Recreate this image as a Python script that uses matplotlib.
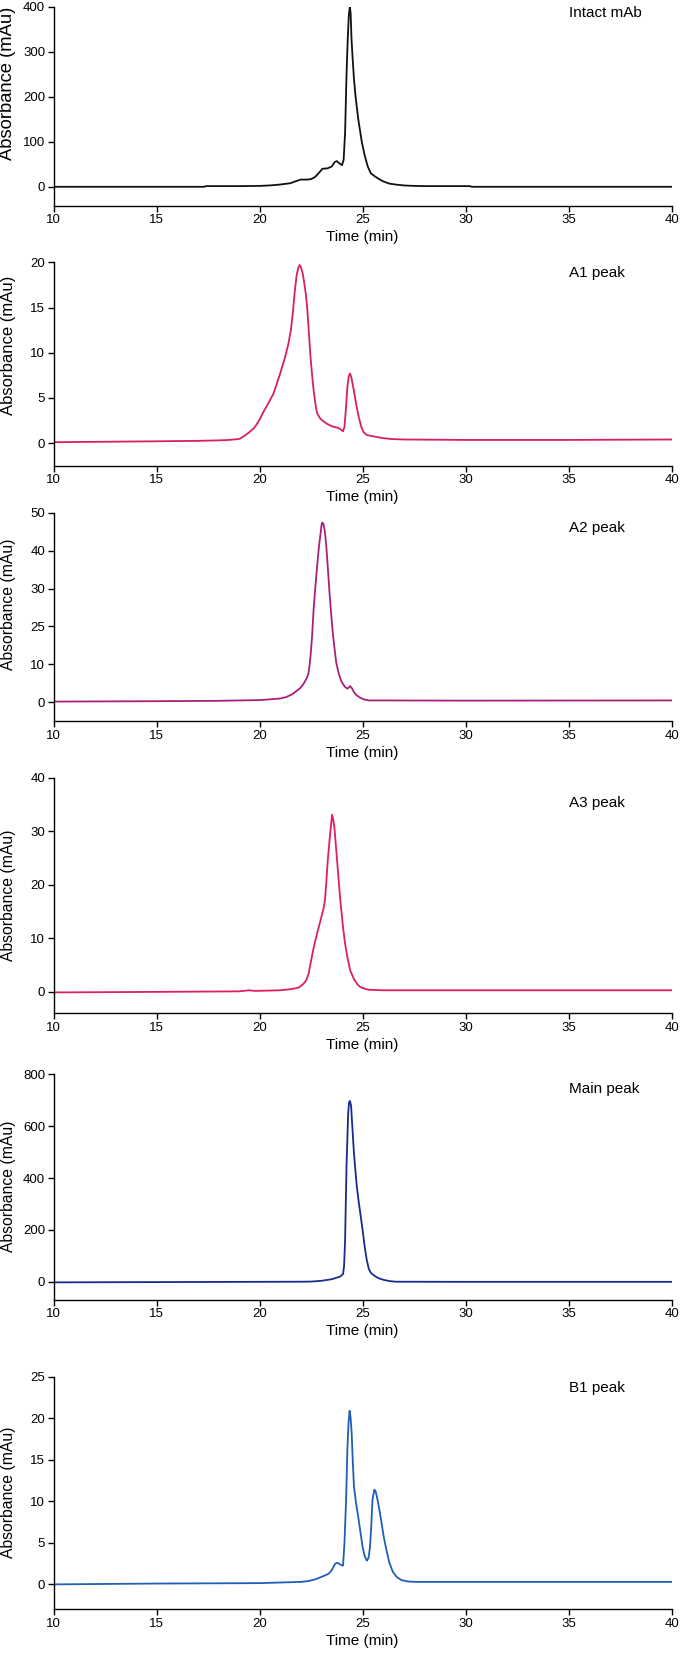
import matplotlib
matplotlib.use("Agg")
import matplotlib.pyplot as plt

plt.rcParams['font.family'] = ['Liberation Sans', 'DejaVu Sans']

# time (min) / absorbance (mAu)
t_intact = [10, 17.3, 17.4, 19.0, 20.0, 20.5, 21.0, 21.5, 21.8, 22.0, 22.3, 22.5, 22.7, 22.9, 23.05,
            23.3, 23.5, 23.65, 23.75, 23.85, 24.0, 24.08, 24.15, 24.22, 24.28, 24.33, 24.38, 24.42,
            24.46, 24.51, 24.58, 24.66, 24.79, 24.96, 25.1, 25.25, 25.4, 25.6, 25.8, 26.0, 26.3,
            26.6, 27.0, 27.5, 28.0, 30.2, 30.3, 40]
a_intact = [0, 0, 1.5, 1.5, 2, 3, 5, 8, 13, 16, 16, 17, 22, 32, 40,
            41, 45, 55, 57, 53, 48, 60, 120, 250, 330, 380, 400, 385,
            330, 290, 240, 200, 150, 100, 70, 45, 30, 23, 17, 12, 7,
            5, 3, 2, 1.5, 1.5, 0, 0]

t_a1 = [10, 15, 17, 18, 18.5, 19.0, 19.2, 19.5, 19.7, 19.84, 20.0, 20.2, 20.45, 20.68, 21.0, 21.25,
        21.4, 21.52, 21.62, 21.7, 21.8, 21.88, 21.94, 22.0, 22.08, 22.15, 22.25, 22.32, 22.4, 22.47,
        22.55, 22.62, 22.7, 22.79, 22.95, 23.1, 23.3, 23.52, 23.8, 23.95, 24.05, 24.12, 24.18,
        24.26, 24.33, 24.39, 24.45, 24.51, 24.6, 24.68, 24.8, 24.93, 25.05, 25.2, 25.5, 26.0,
        26.4, 27, 30, 35, 40]
a_a1 = [0.1, 0.2, 0.25, 0.3, 0.35, 0.45, 0.7, 1.2, 1.6, 2.0, 2.6, 3.5, 4.5, 5.5, 7.7, 9.6,
        11.0, 12.5, 14.5, 16.6, 18.6, 19.4, 19.7, 19.5, 18.9, 18.0, 16.4, 14.7, 12.0, 9.6,
        7.5, 5.9, 4.5, 3.3, 2.7, 2.4, 2.1, 1.85, 1.7, 1.5, 1.3, 1.8, 3.5,
        6.2, 7.4, 7.7, 7.3, 6.6, 5.5, 4.4, 3.0, 1.85, 1.2, 0.9, 0.75, 0.55,
        0.45, 0.4, 0.35, 0.35, 0.4]

t_a2 = [10, 15, 18, 20.05, 21, 21.3, 21.6, 21.94, 22.1, 22.2, 22.3, 22.37, 22.42, 22.47, 22.55,
        22.62, 22.7, 22.79, 22.88, 22.96, 23.0, 23.04, 23.1, 23.17, 23.24, 23.31, 23.38, 23.46,
        23.55, 23.63, 23.72, 23.84, 23.95, 24.05, 24.16, 24.26, 24.33, 24.39, 24.47, 24.58,
        24.7, 24.89, 25.05, 25.3, 26, 30, 40]
a_a2 = [0.2, 0.3, 0.4, 0.6, 1.0, 1.4, 2.2, 3.6, 4.6, 5.5, 6.5, 7.6, 9.5, 12, 17.5,
        24.3, 30.0, 35.7, 41.0, 44.5, 46.5, 47.4, 47.0, 45, 41.0, 35.7, 30.0, 24.3,
        18.5, 14.6, 10.5, 7.6, 5.8, 4.8, 4.0, 3.6, 3.9, 4.3, 3.8, 2.7,
        1.9, 1.2, 0.8, 0.5, 0.5, 0.45, 0.5]

t_a3 = [10, 15, 19.0, 19.5, 19.7, 20, 21, 21.5, 21.8, 21.94, 22.1, 22.26, 22.38, 22.47, 22.6,
        22.79, 22.9, 23.0, 23.1, 23.17, 23.24, 23.31, 23.4, 23.46, 23.52, 23.58, 23.63, 23.7,
        23.8, 23.92, 24.05, 24.15, 24.26, 24.4, 24.58, 24.75, 24.89, 25.1, 25.3, 26, 30, 40]
a_a3 = [-0.1, 0, 0.1, 0.3, 0.2, 0.2, 0.3, 0.5, 0.7, 0.9, 1.4, 2.1, 3.4, 5.2, 7.8,
        10.9, 12.5, 14, 15.5, 17, 20.5, 24.6, 28.5, 30.8, 33.1, 32.0, 30.8, 27.5,
        22.7, 17.0, 12.1, 9.0, 6.5, 4.0, 2.4, 1.4, 0.9, 0.6, 0.4, 0.3, 0.3, 0.3]

t_main = [10, 19.6, 22, 22.5, 23.0, 23.5, 23.9, 24.05, 24.1, 24.15, 24.22, 24.3, 24.34, 24.38,
          24.44, 24.5, 24.58, 24.65, 24.72, 24.8, 24.89, 25.0, 25.1, 25.2, 25.3, 25.4, 25.55,
          25.7, 25.85, 26.0, 26.3, 26.6, 30, 40]
a_main = [-2, 0, 0.5, 1, 4, 10, 20, 30, 60, 160, 450, 650, 690, 697,
          680, 600, 496, 430, 367, 315, 264, 200, 136, 85, 50, 35, 25,
          17, 12, 8, 3, 0.5, 0, 0]

t_b1 = [10, 15, 20, 22, 22.37, 22.7, 23.0, 23.2, 23.36, 23.5, 23.67, 23.78, 23.9, 24.05, 24.12,
        24.2, 24.26, 24.32, 24.37, 24.42, 24.47, 24.52, 24.58, 24.68, 24.79, 24.9, 25.0, 25.1,
        25.21, 25.29, 25.36, 25.42, 25.48, 25.57, 25.63, 25.69, 25.8, 25.9, 26.02, 26.16, 26.3,
        26.47, 26.65, 26.9, 27.2, 27.6, 30, 40]
a_b1 = [0, 0.1, 0.15, 0.3, 0.4, 0.6, 0.9, 1.1, 1.3, 1.7, 2.5, 2.6, 2.4, 2.25, 5.0,
        10.2, 16.2, 19.5, 20.9, 20.0, 18.2, 15.0, 11.8, 9.8, 8.1, 6.2, 4.5, 3.4,
        2.85, 3.2, 4.5, 7.0, 10.2, 11.4, 11.2, 10.6, 9.2, 7.7, 5.8, 4.1, 2.6,
        1.5, 0.9, 0.5, 0.35, 0.3, 0.3, 0.3]

names = ['Intact mAb', 'A1 peak', 'A2 peak', 'A3 peak', 'Main peak', 'B1 peak']
times = [t_intact, t_a1, t_a2, t_a3, t_main, t_b1]
signals = [a_intact, a_a1, a_a2, a_a3, a_main, a_b1]
yticks = [[0, 100, 200, 300, 400],
          [0, 5, 10, 15, 20],
          [0, 10, 20, 30, 40, 50],
          [0, 10, 20, 30, 40],
          [0, 200, 400, 600, 800],
          [0, 5, 10, 15, 20, 25]]
# the A2 panel of the original labels its 20 tick as "25"
ytick_labels = [None, None, ['0', '10', '25', '30', '40', '50'], None, None, None]
xticks = [10, 15, 20, 25, 30, 35, 40]

# layout / style
colors = ['#111111', '#d8205a', '#a8207a', '#e0205a', '#1a2a8c', '#1f5fb8']
ylims = [(-42, 400), (-2.5, 20), (-5, 50), (-4, 40), (-70, 800), (-3, 25)]
boxes = [(6.7, 205.7), (262.3, 465.7), (512.7, 721.3), (777.7, 1013.3), (1074.3, 1300), (1376.7, 1609.3)]
label_y = [385, 18.85, 46, 35.3, 742, 23.6]
ylab_pos = [0.617, 0.593, 0.562, 0.502, 0.502, 0.502]
ylab_size = [13.2, 12.0, 11.3, 11.3, 11.3, 11.3]

W, H = 680, 1654
fig = plt.figure(figsize=(W / 100, H / 100), dpi=100)
left, right = 53.5, 671.7

for i in range(6):
    top, bot = boxes[i]
    ax = fig.add_axes([left / W, 1 - bot / H, (right - left) / W, (bot - top) / H])
    ax.plot(times[i], signals[i], color=colors[i], lw=1.3)
    ax.set_xlim(10, 40)
    ax.set_ylim(*ylims[i])
    ax.set_xticks(xticks)
    ax.set_yticks(yticks[i])
    if ytick_labels[i] is not None:
        ax.set_yticklabels(ytick_labels[i])
    for s in ['top', 'right']:
        ax.spines[s].set_visible(False)
    ax.spines['left'].set_bounds(ylims[i][0], yticks[i][-1])
    for s in ['left', 'bottom']:
        ax.spines[s].set_linewidth(1.0)
    ax.tick_params(length=4, width=1.0, pad=2, labelsize=9.5)
    ax.set_xlabel('Time (min)', fontsize=11, labelpad=3)
    ax.set_ylabel('Absorbance (mAu)', fontsize=ylab_size[i])
    ax.yaxis.set_label_coords(-0.06, ylab_pos[i])
    ax.text(35, label_y[i], names[i], fontsize=11, ha='left', va='center')

fig.savefig('out.png', dpi=100)
